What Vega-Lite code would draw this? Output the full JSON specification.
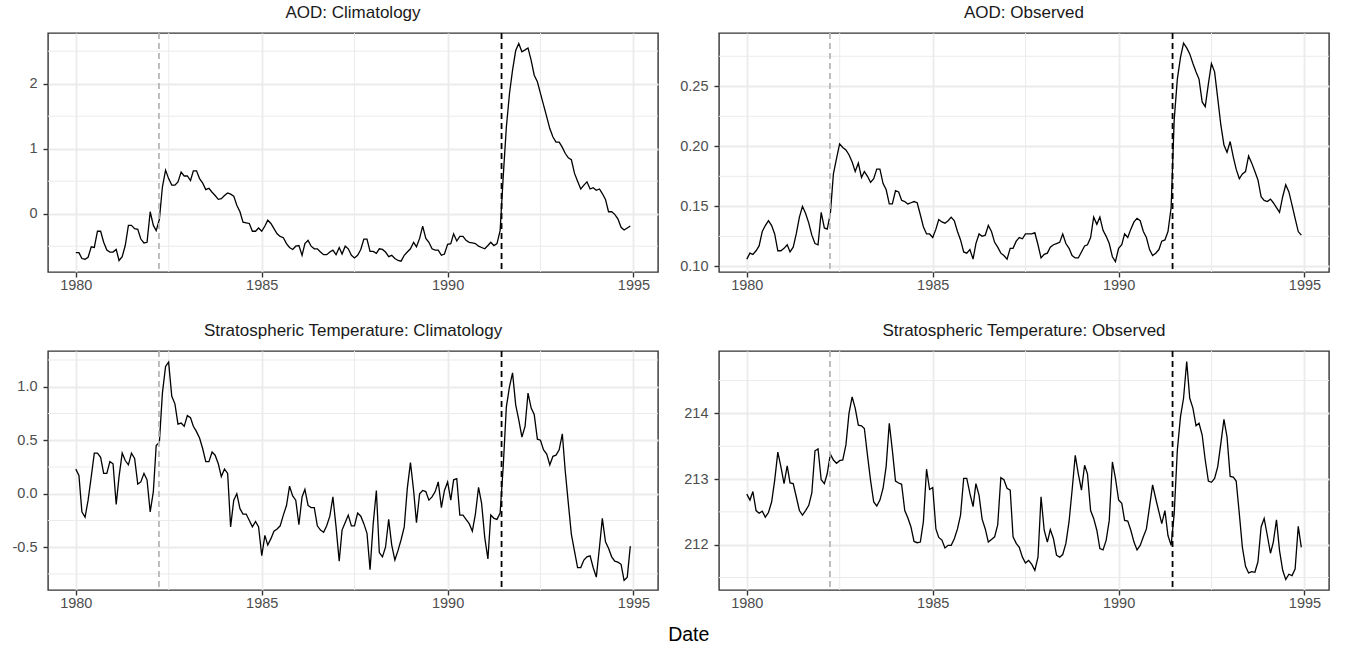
{
 "$schema": "https://vega.github.io/schema/vega-lite/v6.json",
 "background": "white",
 "padding": {"left": 11, "top": 3, "right": 0, "bottom": 0},
 "title": {"text": "Date", "orient": "bottom", "anchor": "middle", "fontSize": 19.5, "color": "#000000", "offset": 15, "dx": 18},
 "columns": 2,
 "spacing": {"row": 79, "column": 61},
 "bounds": "flush",
 "datasets": {
  "vx": [{"d": "1982-07-02"}, {"d": "1987-07-02"}, {"d": "1992-07-02"}],
  "ech": [{"d": "1982-03-28"}],
  "pin": [{"d": "1991-06-15"}],
  "m": [
{"d":"1980-01","ac":-0.60,"ao":0.106,"tc":0.23,"to":212.77},
{"d":"1980-02","ac":-0.60,"ao":0.111,"tc":0.17,"to":212.68},
{"d":"1980-03","ac":-0.69,"ao":0.110,"tc":-0.17,"to":212.81},
{"d":"1980-04","ac":-0.70,"ao":0.113,"tc":-0.22,"to":212.52},
{"d":"1980-05","ac":-0.67,"ao":0.117,"tc":-0.06,"to":212.48},
{"d":"1980-06","ac":-0.51,"ao":0.129,"tc":0.16,"to":212.51},
{"d":"1980-07","ac":-0.52,"ao":0.134,"tc":0.38,"to":212.42},
{"d":"1980-08","ac":-0.27,"ao":0.138,"tc":0.38,"to":212.49},
{"d":"1980-09","ac":-0.27,"ao":0.134,"tc":0.34,"to":212.65},
{"d":"1980-10","ac":-0.44,"ao":0.127,"tc":0.19,"to":212.98},
{"d":"1980-11","ac":-0.56,"ao":0.113,"tc":0.19,"to":213.41},
{"d":"1980-12","ac":-0.59,"ao":0.113,"tc":0.30,"to":213.19},
{"d":"1981-01","ac":-0.59,"ao":0.115,"tc":0.28,"to":212.93},
{"d":"1981-02","ac":-0.55,"ao":0.118,"tc":-0.10,"to":213.20},
{"d":"1981-03","ac":-0.72,"ao":0.112,"tc":0.16,"to":212.94},
{"d":"1981-04","ac":-0.66,"ao":0.116,"tc":0.38,"to":212.93},
{"d":"1981-05","ac":-0.49,"ao":0.127,"tc":0.31,"to":212.73},
{"d":"1981-06","ac":-0.18,"ao":0.141,"tc":0.27,"to":212.52},
{"d":"1981-07","ac":-0.18,"ao":0.150,"tc":0.38,"to":212.45},
{"d":"1981-08","ac":-0.23,"ao":0.144,"tc":0.33,"to":212.52},
{"d":"1981-09","ac":-0.24,"ao":0.136,"tc":0.09,"to":212.60},
{"d":"1981-10","ac":-0.39,"ao":0.126,"tc":0.11,"to":212.79},
{"d":"1981-11","ac":-0.45,"ao":0.119,"tc":0.19,"to":213.43},
{"d":"1981-12","ac":-0.44,"ao":0.118,"tc":0.13,"to":213.46},
{"d":"1982-01","ac":0.03,"ao":0.145,"tc":-0.17,"to":212.99},
{"d":"1982-02","ac":-0.18,"ao":0.132,"tc":0.02,"to":212.93},
{"d":"1982-03","ac":-0.26,"ao":0.131,"tc":0.45,"to":213.08},
{"d":"1982-04","ac":-0.09,"ao":0.144,"tc":0.48,"to":213.38},
{"d":"1982-05","ac":0.41,"ao":0.177,"tc":0.94,"to":213.29},
{"d":"1982-06","ac":0.67,"ao":0.190,"tc":1.19,"to":213.24},
{"d":"1982-07","ac":0.54,"ao":0.202,"tc":1.23,"to":213.28},
{"d":"1982-08","ac":0.44,"ao":0.199,"tc":0.91,"to":213.29},
{"d":"1982-09","ac":0.44,"ao":0.197,"tc":0.84,"to":213.52},
{"d":"1982-10","ac":0.49,"ao":0.193,"tc":0.65,"to":214.00},
{"d":"1982-11","ac":0.64,"ao":0.187,"tc":0.66,"to":214.25},
{"d":"1982-12","ac":0.58,"ao":0.179,"tc":0.63,"to":214.08},
{"d":"1983-01","ac":0.58,"ao":0.186,"tc":0.73,"to":213.82},
{"d":"1983-02","ac":0.51,"ao":0.174,"tc":0.71,"to":213.81},
{"d":"1983-03","ac":0.66,"ao":0.179,"tc":0.63,"to":213.77},
{"d":"1983-04","ac":0.66,"ao":0.175,"tc":0.58,"to":213.36},
{"d":"1983-05","ac":0.54,"ao":0.170,"tc":0.52,"to":212.98},
{"d":"1983-06","ac":0.47,"ao":0.173,"tc":0.42,"to":212.65},
{"d":"1983-07","ac":0.37,"ao":0.181,"tc":0.30,"to":212.59},
{"d":"1983-08","ac":0.39,"ao":0.181,"tc":0.30,"to":212.68},
{"d":"1983-09","ac":0.33,"ao":0.169,"tc":0.39,"to":212.86},
{"d":"1983-10","ac":0.28,"ao":0.164,"tc":0.36,"to":213.19},
{"d":"1983-11","ac":0.22,"ao":0.152,"tc":0.28,"to":213.85},
{"d":"1983-12","ac":0.23,"ao":0.152,"tc":0.16,"to":213.44},
{"d":"1984-01","ac":0.28,"ao":0.163,"tc":0.23,"to":212.97},
{"d":"1984-02","ac":0.32,"ao":0.162,"tc":0.19,"to":212.94},
{"d":"1984-03","ac":0.30,"ao":0.155,"tc":-0.31,"to":212.92},
{"d":"1984-04","ac":0.27,"ao":0.154,"tc":-0.06,"to":212.52},
{"d":"1984-05","ac":0.13,"ao":0.152,"tc":0.00,"to":212.41},
{"d":"1984-06","ac":0.03,"ao":0.153,"tc":-0.14,"to":212.27},
{"d":"1984-07","ac":-0.13,"ao":0.154,"tc":-0.19,"to":212.05},
{"d":"1984-08","ac":-0.14,"ao":0.153,"tc":-0.19,"to":212.03},
{"d":"1984-09","ac":-0.15,"ao":0.143,"tc":-0.25,"to":212.04},
{"d":"1984-10","ac":-0.27,"ao":0.133,"tc":-0.31,"to":212.35},
{"d":"1984-11","ac":-0.27,"ao":0.127,"tc":-0.26,"to":213.15},
{"d":"1984-12","ac":-0.22,"ao":0.127,"tc":-0.31,"to":212.84},
{"d":"1985-01","ac":-0.27,"ao":0.124,"tc":-0.58,"to":212.87},
{"d":"1985-02","ac":-0.19,"ao":0.131,"tc":-0.39,"to":212.24},
{"d":"1985-03","ac":-0.10,"ao":0.139,"tc":-0.48,"to":212.11},
{"d":"1985-04","ac":-0.15,"ao":0.137,"tc":-0.42,"to":212.07},
{"d":"1985-05","ac":-0.23,"ao":0.136,"tc":-0.35,"to":211.95},
{"d":"1985-06","ac":-0.31,"ao":0.138,"tc":-0.33,"to":211.99},
{"d":"1985-07","ac":-0.35,"ao":0.141,"tc":-0.30,"to":211.99},
{"d":"1985-08","ac":-0.37,"ao":0.138,"tc":-0.20,"to":212.09},
{"d":"1985-09","ac":-0.46,"ao":0.129,"tc":-0.11,"to":212.24},
{"d":"1985-10","ac":-0.52,"ao":0.122,"tc":0.07,"to":212.45},
{"d":"1985-11","ac":-0.55,"ao":0.112,"tc":-0.02,"to":213.01},
{"d":"1985-12","ac":-0.50,"ao":0.111,"tc":-0.06,"to":213.01},
{"d":"1986-01","ac":-0.49,"ao":0.114,"tc":-0.29,"to":212.78},
{"d":"1986-02","ac":-0.64,"ao":0.106,"tc":-0.03,"to":212.58},
{"d":"1986-03","ac":-0.46,"ao":0.119,"tc":0.04,"to":212.93},
{"d":"1986-04","ac":-0.41,"ao":0.127,"tc":-0.11,"to":212.75},
{"d":"1986-05","ac":-0.50,"ao":0.125,"tc":-0.13,"to":212.39},
{"d":"1986-06","ac":-0.54,"ao":0.126,"tc":-0.13,"to":212.24},
{"d":"1986-07","ac":-0.54,"ao":0.134,"tc":-0.30,"to":212.04},
{"d":"1986-08","ac":-0.59,"ao":0.129,"tc":-0.34,"to":212.08},
{"d":"1986-09","ac":-0.63,"ao":0.120,"tc":-0.36,"to":212.12},
{"d":"1986-10","ac":-0.63,"ao":0.116,"tc":-0.30,"to":212.30},
{"d":"1986-11","ac":-0.59,"ao":0.111,"tc":-0.21,"to":213.02},
{"d":"1986-12","ac":-0.56,"ao":0.109,"tc":-0.03,"to":212.99},
{"d":"1987-01","ac":-0.63,"ao":0.106,"tc":-0.31,"to":212.86},
{"d":"1987-02","ac":-0.52,"ao":0.115,"tc":-0.63,"to":212.83},
{"d":"1987-03","ac":-0.62,"ao":0.115,"tc":-0.34,"to":212.12},
{"d":"1987-04","ac":-0.50,"ao":0.121,"tc":-0.27,"to":212.02},
{"d":"1987-05","ac":-0.54,"ao":0.124,"tc":-0.20,"to":211.96},
{"d":"1987-06","ac":-0.64,"ao":0.123,"tc":-0.30,"to":211.81},
{"d":"1987-07","ac":-0.68,"ao":0.127,"tc":-0.30,"to":211.72},
{"d":"1987-08","ac":-0.64,"ao":0.127,"tc":-0.18,"to":211.76},
{"d":"1987-09","ac":-0.55,"ao":0.127,"tc":-0.21,"to":211.70},
{"d":"1987-10","ac":-0.39,"ao":0.128,"tc":-0.28,"to":211.61},
{"d":"1987-11","ac":-0.39,"ao":0.118,"tc":-0.37,"to":211.81},
{"d":"1987-12","ac":-0.58,"ao":0.107,"tc":-0.71,"to":212.73},
{"d":"1988-01","ac":-0.58,"ao":0.110,"tc":-0.28,"to":212.22},
{"d":"1988-02","ac":-0.61,"ao":0.111,"tc":0.03,"to":212.04},
{"d":"1988-03","ac":-0.54,"ao":0.116,"tc":-0.55,"to":212.23},
{"d":"1988-04","ac":-0.55,"ao":0.118,"tc":-0.59,"to":212.09},
{"d":"1988-05","ac":-0.59,"ao":0.119,"tc":-0.50,"to":211.84},
{"d":"1988-06","ac":-0.66,"ao":0.120,"tc":-0.24,"to":211.81},
{"d":"1988-07","ac":-0.64,"ao":0.127,"tc":-0.48,"to":211.85},
{"d":"1988-08","ac":-0.69,"ao":0.119,"tc":-0.62,"to":212.02},
{"d":"1988-09","ac":-0.72,"ao":0.115,"tc":-0.53,"to":212.35},
{"d":"1988-10","ac":-0.73,"ao":0.109,"tc":-0.43,"to":212.83},
{"d":"1988-11","ac":-0.64,"ao":0.107,"tc":-0.31,"to":213.36},
{"d":"1988-12","ac":-0.59,"ao":0.107,"tc":0.05,"to":213.08},
{"d":"1989-01","ac":-0.54,"ao":0.112,"tc":0.29,"to":212.83},
{"d":"1989-02","ac":-0.44,"ao":0.117,"tc":0.03,"to":213.21},
{"d":"1989-03","ac":-0.51,"ao":0.118,"tc":-0.27,"to":213.08},
{"d":"1989-04","ac":-0.38,"ao":0.124,"tc":0.00,"to":212.52},
{"d":"1989-05","ac":-0.19,"ao":0.141,"tc":0.03,"to":212.40},
{"d":"1989-06","ac":-0.38,"ao":0.135,"tc":0.02,"to":212.22},
{"d":"1989-07","ac":-0.44,"ao":0.141,"tc":-0.06,"to":211.94},
{"d":"1989-08","ac":-0.54,"ao":0.130,"tc":-0.03,"to":211.92},
{"d":"1989-09","ac":-0.56,"ao":0.125,"tc":0.02,"to":212.07},
{"d":"1989-10","ac":-0.56,"ao":0.119,"tc":0.11,"to":212.37},
{"d":"1989-11","ac":-0.64,"ao":0.108,"tc":-0.13,"to":213.26},
{"d":"1989-12","ac":-0.62,"ao":0.104,"tc":0.03,"to":213.01},
{"d":"1990-01","ac":-0.47,"ao":0.115,"tc":0.11,"to":212.68},
{"d":"1990-02","ac":-0.46,"ao":0.118,"tc":-0.06,"to":212.63},
{"d":"1990-03","ac":-0.31,"ao":0.127,"tc":0.13,"to":212.37},
{"d":"1990-04","ac":-0.42,"ao":0.124,"tc":0.14,"to":212.36},
{"d":"1990-05","ac":-0.35,"ao":0.131,"tc":-0.20,"to":212.22},
{"d":"1990-06","ac":-0.35,"ao":0.137,"tc":-0.20,"to":212.04},
{"d":"1990-07","ac":-0.41,"ao":0.140,"tc":-0.24,"to":211.92},
{"d":"1990-08","ac":-0.44,"ao":0.138,"tc":-0.28,"to":211.99},
{"d":"1990-09","ac":-0.45,"ao":0.129,"tc":-0.35,"to":212.12},
{"d":"1990-10","ac":-0.46,"ao":0.124,"tc":-0.19,"to":212.24},
{"d":"1990-11","ac":-0.50,"ao":0.114,"tc":0.06,"to":212.58},
{"d":"1990-12","ac":-0.52,"ao":0.109,"tc":-0.09,"to":212.91},
{"d":"1991-01","ac":-0.54,"ao":0.111,"tc":-0.41,"to":212.70},
{"d":"1991-02","ac":-0.49,"ao":0.114,"tc":-0.61,"to":212.50},
{"d":"1991-03","ac":-0.44,"ao":0.121,"tc":-0.20,"to":212.32},
{"d":"1991-04","ac":-0.49,"ao":0.122,"tc":-0.23,"to":212.52},
{"d":"1991-05","ac":-0.46,"ao":0.129,"tc":-0.24,"to":212.14},
{"d":"1991-06","ac":-0.26,"ao":0.149,"tc":-0.18,"to":211.99},
{"d":"1991-07","ac":0.56,"ao":0.222,"tc":0.25,"to":212.47},
{"d":"1991-08","ac":1.33,"ao":0.256,"tc":0.81,"to":213.44},
{"d":"1991-09","ac":1.85,"ao":0.274,"tc":1.00,"to":213.95},
{"d":"1991-10","ac":2.21,"ao":0.286,"tc":1.13,"to":214.23},
{"d":"1991-11","ac":2.51,"ao":0.282,"tc":0.83,"to":214.79},
{"d":"1991-12","ac":2.62,"ao":0.277,"tc":0.69,"to":214.23},
{"d":"1992-01","ac":2.49,"ao":0.269,"tc":0.53,"to":214.08},
{"d":"1992-02","ac":2.52,"ao":0.262,"tc":0.63,"to":213.81},
{"d":"1992-03","ac":2.55,"ao":0.256,"tc":0.94,"to":213.85},
{"d":"1992-04","ac":2.36,"ao":0.237,"tc":0.80,"to":213.67},
{"d":"1992-05","ac":2.13,"ao":0.233,"tc":0.74,"to":213.29},
{"d":"1992-06","ac":2.03,"ao":0.252,"tc":0.51,"to":212.97},
{"d":"1992-07","ac":1.85,"ao":0.269,"tc":0.50,"to":212.95},
{"d":"1992-08","ac":1.67,"ao":0.262,"tc":0.41,"to":213.01},
{"d":"1992-09","ac":1.49,"ao":0.240,"tc":0.37,"to":213.19},
{"d":"1992-10","ac":1.31,"ao":0.218,"tc":0.27,"to":213.54},
{"d":"1992-11","ac":1.18,"ao":0.201,"tc":0.35,"to":213.91},
{"d":"1992-12","ac":1.10,"ao":0.195,"tc":0.36,"to":213.64},
{"d":"1993-01","ac":1.10,"ao":0.204,"tc":0.41,"to":213.04},
{"d":"1993-02","ac":1.02,"ao":0.191,"tc":0.56,"to":213.03},
{"d":"1993-03","ac":0.93,"ao":0.181,"tc":0.22,"to":212.97},
{"d":"1993-04","ac":0.86,"ao":0.173,"tc":-0.09,"to":212.47},
{"d":"1993-05","ac":0.83,"ao":0.177,"tc":-0.38,"to":211.96},
{"d":"1993-06","ac":0.62,"ao":0.179,"tc":-0.54,"to":211.67},
{"d":"1993-07","ac":0.50,"ao":0.192,"tc":-0.69,"to":211.57},
{"d":"1993-08","ac":0.38,"ao":0.186,"tc":-0.69,"to":211.59},
{"d":"1993-09","ac":0.44,"ao":0.179,"tc":-0.62,"to":211.58},
{"d":"1993-10","ac":0.49,"ao":0.172,"tc":-0.59,"to":211.74},
{"d":"1993-11","ac":0.38,"ao":0.158,"tc":-0.58,"to":212.27},
{"d":"1993-12","ac":0.40,"ao":0.155,"tc":-0.69,"to":212.40},
{"d":"1994-01","ac":0.36,"ao":0.154,"tc":-0.78,"to":212.14},
{"d":"1994-02","ac":0.38,"ao":0.156,"tc":-0.50,"to":211.87},
{"d":"1994-03","ac":0.31,"ao":0.153,"tc":-0.23,"to":212.04},
{"d":"1994-04","ac":0.22,"ao":0.149,"tc":-0.45,"to":212.38},
{"d":"1994-05","ac":0.03,"ao":0.145,"tc":-0.51,"to":211.91},
{"d":"1994-06","ac":0.03,"ao":0.158,"tc":-0.59,"to":211.61},
{"d":"1994-07","ac":-0.01,"ao":0.168,"tc":-0.63,"to":211.47},
{"d":"1994-08","ac":-0.08,"ao":0.162,"tc":-0.64,"to":211.55},
{"d":"1994-09","ac":-0.21,"ao":0.151,"tc":-0.66,"to":211.53},
{"d":"1994-10","ac":-0.25,"ao":0.140,"tc":-0.81,"to":211.63},
{"d":"1994-11","ac":-0.22,"ao":0.129,"tc":-0.78,"to":212.28},
{"d":"1994-12","ac":-0.19,"ao":0.126,"tc":-0.49,"to":211.96}
  ]
 },
 "concat": [
  {
   "width": 610, "height": 239,
   "title": {"text": "AOD: Climatology"},
   "layer": [
    {"data": {"name": "vx"}, "mark": {"type": "rule", "color": "#EBEBEB", "strokeWidth": 1}, "encoding": {"x": {"field": "d", "type": "temporal", "title": null, "scale": {"type": "utc", "nice": false, "domain": [{"year": 1979, "month": 4, "date": 3, "utc": true}, {"year": 1995, "month": 8, "date": 30, "utc": true}]}}}},
    {"data": {"values": [{"g": -0.5}, {"g": 0.5}, {"g": 1.5}, {"g": 2.5}]}, "mark": {"type": "rule", "color": "#EBEBEB", "strokeWidth": 1}, "encoding": {"y": {"field": "g", "type": "quantitative", "title": null, "scale": {"domain": [-0.897, 2.78], "nice": false, "zero": false}}}},
    {"data": {"name": "m"}, "mark": {"type": "line", "color": "#000000", "strokeWidth": 1.3},
     "encoding": {
      "x": {"field": "d", "type": "temporal", "title": null, "scale": {"type": "utc", "nice": false, "domain": [{"year": 1979, "month": 4, "date": 3, "utc": true}, {"year": 1995, "month": 8, "date": 30, "utc": true}]}, "axis": {"values": [{"year": 1980, "utc": true}, {"year": 1985, "utc": true}, {"year": 1990, "utc": true}, {"year": 1995, "utc": true}], "format": "%Y", "labelFlush": false, "labelPadding": 1.5}},
      "y": {"field": "ac", "type": "quantitative", "title": null, "scale": {"domain": [-0.897, 2.78], "nice": false, "zero": false}, "axis": {"values": [0, 1, 2], "format": "d", "labelPadding": 6}}
     }},
    {"data": {"name": "ech"}, "mark": {"type": "rule", "color": "#B8B8B8", "strokeDash": [6, 4], "strokeWidth": 1.8}, "encoding": {"x": {"field": "d", "type": "temporal", "title": null}}},
    {"data": {"name": "pin"}, "mark": {"type": "rule", "color": "#000000", "strokeDash": [6, 4], "strokeWidth": 1.8}, "encoding": {"x": {"field": "d", "type": "temporal", "title": null}}}
   ]
  },
  {
   "width": 610, "height": 239,
   "title": {"text": "AOD: Observed"},
   "layer": [
    {"data": {"name": "vx"}, "mark": {"type": "rule", "color": "#EBEBEB", "strokeWidth": 1}, "encoding": {"x": {"field": "d", "type": "temporal", "title": null, "scale": {"type": "utc", "nice": false, "domain": [{"year": 1979, "month": 4, "date": 3, "utc": true}, {"year": 1995, "month": 8, "date": 30, "utc": true}]}}}},
    {"data": {"values": [{"g": 0.125}, {"g": 0.175}, {"g": 0.225}, {"g": 0.275}]}, "mark": {"type": "rule", "color": "#EBEBEB", "strokeWidth": 1}, "encoding": {"y": {"field": "g", "type": "quantitative", "title": null, "scale": {"domain": [0.0953, 0.2944], "nice": false, "zero": false}}}},
    {"data": {"name": "m"}, "mark": {"type": "line", "color": "#000000", "strokeWidth": 1.3},
     "encoding": {
      "x": {"field": "d", "type": "temporal", "title": null, "scale": {"type": "utc", "nice": false, "domain": [{"year": 1979, "month": 4, "date": 3, "utc": true}, {"year": 1995, "month": 8, "date": 30, "utc": true}]}, "axis": {"values": [{"year": 1980, "utc": true}, {"year": 1985, "utc": true}, {"year": 1990, "utc": true}, {"year": 1995, "utc": true}], "format": "%Y", "labelFlush": false, "labelPadding": 1.5}},
      "y": {"field": "ao", "type": "quantitative", "title": null, "scale": {"domain": [0.0953, 0.2944], "nice": false, "zero": false}, "axis": {"values": [0.10, 0.15, 0.20, 0.25], "format": ".2f", "labelPadding": 6}}
     }},
    {"data": {"name": "ech"}, "mark": {"type": "rule", "color": "#B8B8B8", "strokeDash": [6, 4], "strokeWidth": 1.8}, "encoding": {"x": {"field": "d", "type": "temporal", "title": null}}},
    {"data": {"name": "pin"}, "mark": {"type": "rule", "color": "#000000", "strokeDash": [6, 4], "strokeWidth": 1.8}, "encoding": {"x": {"field": "d", "type": "temporal", "title": null}}}
   ]
  },
  {
   "width": 610, "height": 239,
   "title": {"text": "Stratospheric Temperature: Climatology"},
   "layer": [
    {"data": {"name": "vx"}, "mark": {"type": "rule", "color": "#EBEBEB", "strokeWidth": 1}, "encoding": {"x": {"field": "d", "type": "temporal", "title": null, "scale": {"type": "utc", "nice": false, "domain": [{"year": 1979, "month": 4, "date": 3, "utc": true}, {"year": 1995, "month": 8, "date": 30, "utc": true}]}}}},
    {"data": {"values": [{"g": -0.75}, {"g": -0.25}, {"g": 0.25}, {"g": 0.75}, {"g": 1.25}]}, "mark": {"type": "rule", "color": "#EBEBEB", "strokeWidth": 1}, "encoding": {"y": {"field": "g", "type": "quantitative", "title": null, "scale": {"domain": [-0.90, 1.334], "nice": false, "zero": false}}}},
    {"data": {"name": "m"}, "mark": {"type": "line", "color": "#000000", "strokeWidth": 1.3},
     "encoding": {
      "x": {"field": "d", "type": "temporal", "title": null, "scale": {"type": "utc", "nice": false, "domain": [{"year": 1979, "month": 4, "date": 3, "utc": true}, {"year": 1995, "month": 8, "date": 30, "utc": true}]}, "axis": {"values": [{"year": 1980, "utc": true}, {"year": 1985, "utc": true}, {"year": 1990, "utc": true}, {"year": 1995, "utc": true}], "format": "%Y", "labelFlush": false, "labelPadding": 1.5}},
      "y": {"field": "tc", "type": "quantitative", "title": null, "scale": {"domain": [-0.90, 1.334], "nice": false, "zero": false}, "axis": {"values": [-0.5, 0, 0.5, 1.0], "format": ".1f", "labelPadding": 6, "labelExpr": "replace(datum.label, '\u2212', '-')"}}
     }},
    {"data": {"name": "ech"}, "mark": {"type": "rule", "color": "#B8B8B8", "strokeDash": [6, 4], "strokeWidth": 1.8}, "encoding": {"x": {"field": "d", "type": "temporal", "title": null}}},
    {"data": {"name": "pin"}, "mark": {"type": "rule", "color": "#000000", "strokeDash": [6, 4], "strokeWidth": 1.8}, "encoding": {"x": {"field": "d", "type": "temporal", "title": null}}}
   ]
  },
  {
   "width": 610, "height": 239,
   "title": {"text": "Stratospheric Temperature: Observed"},
   "layer": [
    {"data": {"name": "vx"}, "mark": {"type": "rule", "color": "#EBEBEB", "strokeWidth": 1}, "encoding": {"x": {"field": "d", "type": "temporal", "title": null, "scale": {"type": "utc", "nice": false, "domain": [{"year": 1979, "month": 4, "date": 3, "utc": true}, {"year": 1995, "month": 8, "date": 30, "utc": true}]}}}},
    {"data": {"values": [{"g": 211.5}, {"g": 212.5}, {"g": 213.5}, {"g": 214.5}]}, "mark": {"type": "rule", "color": "#EBEBEB", "strokeWidth": 1}, "encoding": {"y": {"field": "g", "type": "quantitative", "title": null, "scale": {"domain": [211.31, 214.95], "nice": false, "zero": false}}}},
    {"data": {"name": "m"}, "mark": {"type": "line", "color": "#000000", "strokeWidth": 1.3},
     "encoding": {
      "x": {"field": "d", "type": "temporal", "title": null, "scale": {"type": "utc", "nice": false, "domain": [{"year": 1979, "month": 4, "date": 3, "utc": true}, {"year": 1995, "month": 8, "date": 30, "utc": true}]}, "axis": {"values": [{"year": 1980, "utc": true}, {"year": 1985, "utc": true}, {"year": 1990, "utc": true}, {"year": 1995, "utc": true}], "format": "%Y", "labelFlush": false, "labelPadding": 1.5}},
      "y": {"field": "to", "type": "quantitative", "title": null, "scale": {"domain": [211.31, 214.95], "nice": false, "zero": false}, "axis": {"values": [212, 213, 214], "format": "d", "labelPadding": 6}}
     }},
    {"data": {"name": "ech"}, "mark": {"type": "rule", "color": "#B8B8B8", "strokeDash": [6, 4], "strokeWidth": 1.8}, "encoding": {"x": {"field": "d", "type": "temporal", "title": null}}},
    {"data": {"name": "pin"}, "mark": {"type": "rule", "color": "#000000", "strokeDash": [6, 4], "strokeWidth": 1.8}, "encoding": {"x": {"field": "d", "type": "temporal", "title": null}}}
   ]
  }
 ],
 "config": {
  "font": "Liberation Sans",
  "view": {"stroke": "#333333", "strokeWidth": 1.4},
  "axis": {"domain": false, "grid": true, "gridColor": "#EBEBEB", "gridWidth": 1.8, "ticks": true, "tickColor": "#333333", "tickWidth": 1.4, "tickSize": 5, "labelColor": "#4D4D4D", "labelFont": "Liberation Sans", "labelFontSize": 14.5},
  "title": {"font": "Liberation Sans", "fontSize": 17, "fontWeight": "normal", "color": "#1A1A1A", "offset": 10}
 }
}
